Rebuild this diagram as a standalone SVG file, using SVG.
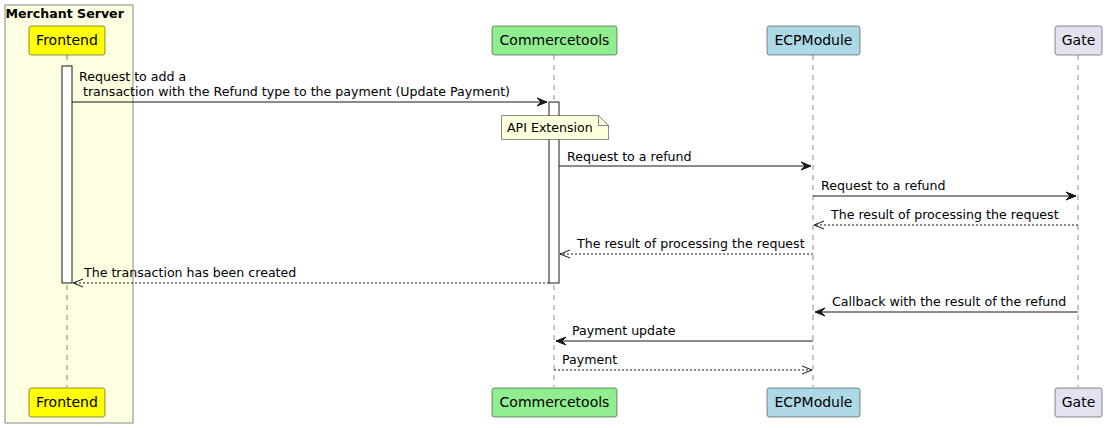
<svg xmlns="http://www.w3.org/2000/svg" width="1107" height="428" viewBox="0 0 1107 428">
<defs>
<style>
text{font-family:"DejaVu Sans","Liberation Sans",sans-serif;fill:#000000}
.msg{font-size:12.6px}
.pt{font-size:14px}
.pbox{stroke:#181818;stroke-width:0.5}
.life{stroke:#181818;stroke-width:0.5;stroke-dasharray:5,5;fill:none}
.act{fill:#FFFFFF;stroke:#181818;stroke-width:1}
.solid{stroke:#181818;stroke-width:1;fill:none}
.dash{stroke:#181818;stroke-width:1;stroke-dasharray:2,2;fill:none}
.head{fill:#181818;stroke:#181818;stroke-width:1}
.open{fill:none;stroke:#181818;stroke-width:1}
</style>
</defs>
<g id="merchant-server">
<rect x="5" y="5" width="128" height="418" fill="#FEFEE0" stroke="#888888" stroke-width="1"/>
<text x="5.5" y="18" style="font-size:12.6px;font-weight:bold">Merchant Server</text>
</g>
<g id="lifelines">
<line class="life" x1="67" y1="55" x2="67" y2="387"/>
<line class="life" x1="554" y1="55" x2="554" y2="387"/>
<line class="life" x1="813" y1="55" x2="813" y2="387"/>
<line class="life" x1="1078" y1="55" x2="1078" y2="387"/>
</g>
<g id="activations">
<rect class="act" x="62" y="66" width="10" height="217"/>
<rect class="act" x="549" y="102" width="10" height="181"/>
</g>
<g id="frontend">
<rect class="pbox" x="29" y="26" width="76" height="29" rx="2.5" fill="#FFFF00"/>
<text class="pt" x="67" y="45" text-anchor="middle">Frontend</text>
<rect class="pbox" x="29" y="388" width="76" height="29" rx="2.5" fill="#FFFF00"/>
<text class="pt" x="67" y="407" text-anchor="middle">Frontend</text>
</g>
<g id="commercetools">
<rect class="pbox" x="492" y="26" width="125" height="29" rx="2.5" fill="#90EE90"/>
<text class="pt" x="554.5" y="45" text-anchor="middle">Commercetools</text>
<rect class="pbox" x="492" y="388" width="125" height="29" rx="2.5" fill="#90EE90"/>
<text class="pt" x="554.5" y="407" text-anchor="middle">Commercetools</text>
</g>
<g id="ecpmodule">
<rect class="pbox" x="767" y="26" width="93" height="29" rx="2.5" fill="#ADD8E6"/>
<text class="pt" x="813.5" y="45" text-anchor="middle">ECPModule</text>
<rect class="pbox" x="767" y="388" width="93" height="29" rx="2.5" fill="#ADD8E6"/>
<text class="pt" x="813.5" y="407" text-anchor="middle">ECPModule</text>
</g>
<g id="gate">
<rect class="pbox" x="1055" y="26" width="47" height="29" rx="2.5" fill="#E2E2F0"/>
<text class="pt" x="1078.5" y="45" text-anchor="middle">Gate</text>
<rect class="pbox" x="1055" y="388" width="47" height="29" rx="2.5" fill="#E2E2F0"/>
<text class="pt" x="1078.5" y="407" text-anchor="middle">Gate</text>
</g>
<g id="note-api-extension">
<path d="M501.5,115.5 L598.5,115.5 L608.5,125.5 L608.5,139.5 L501.5,139.5 Z" fill="#FEFFDD" stroke="#181818" stroke-width="0.5"/>
<path d="M598.5,115.5 L598.5,125.5 L608.5,125.5" fill="none" stroke="#181818" stroke-width="0.5"/>
<text class="msg" x="507" y="132">API Extension</text>
</g>
<g id="connectors">
<line class="solid" x1="72" y1="102" x2="547" y2="102"/>
<polygon class="head" points="537,98 547,102 537,106 541,102"/>
<text class="msg" x="79" y="81">Request to add a</text>
<text class="msg" x="79" y="96" xml:space="preserve"> transaction with the Refund type to the payment (Update Payment)</text>

<line class="solid" x1="559" y1="166" x2="811" y2="166"/>
<polygon class="head" points="801,162 811,166 801,170 805,166"/>
<text class="msg" x="567" y="161">Request to a refund</text>

<line class="solid" x1="813" y1="196" x2="1076" y2="196"/>
<polygon class="head" points="1066,192 1076,196 1066,200 1070,196"/>
<text class="msg" x="821" y="190">Request to a refund</text>

<line class="dash" x1="1078" y1="225" x2="814" y2="225"/>
<polyline class="open" points="824,221 814,225 824,229"/>
<text class="msg" x="831" y="219">The result of processing the request</text>

<line class="dash" x1="813" y1="254" x2="560" y2="254"/>
<polyline class="open" points="570,250 560,254 570,258"/>
<text class="msg" x="577" y="248">The result of processing the request</text>

<line class="dash" x1="549" y1="283" x2="73" y2="283"/>
<polyline class="open" points="83,279 73,283 83,287"/>
<text class="msg" x="84" y="277">The transaction has been created</text>

<line class="solid" x1="1078" y1="312" x2="815" y2="312"/>
<polygon class="head" points="825,308 815,312 825,316 821,312"/>
<text class="msg" x="832" y="306">Callback with the result of the refund</text>

<line class="solid" x1="813" y1="341" x2="556" y2="341"/>
<polygon class="head" points="566,337 556,341 566,345 562,341"/>
<text class="msg" x="572" y="335">Payment update</text>

<line class="dash" x1="554" y1="370" x2="812" y2="370"/>
<polyline class="open" points="802,366 812,370 802,374"/>
<text class="msg" x="562" y="364">Payment</text>
</g>
</svg>
